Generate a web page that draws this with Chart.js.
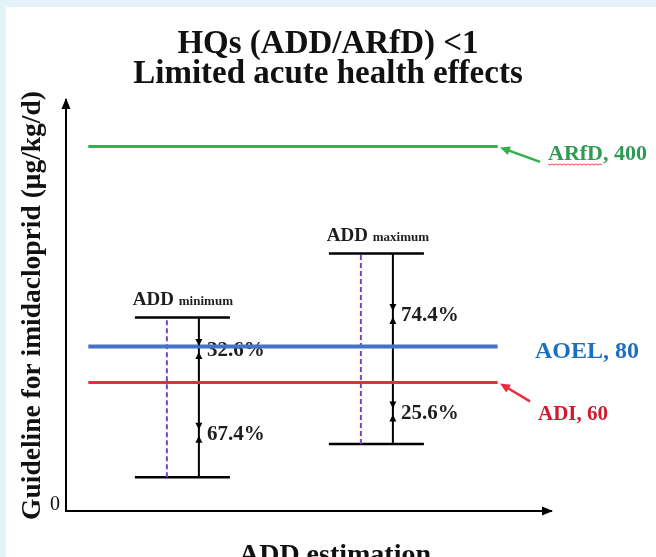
<!DOCTYPE html>
<html>
<head>
<meta charset="utf-8">
<script src="https://cdn.jsdelivr.net/npm/chart.js@4.4.1/dist/chart.umd.min.js"></script>
<style>
  html, body { margin: 0; padding: 0; background: #fff; overflow: hidden; }
  canvas { display: block; }
</style>
</head>
<body>
<canvas id="c" width="656" height="557"></canvas>
<script>
const SERIF = "'Liberation Serif', 'Times New Roman', serif";

// ---- data ----
const categories = ['ADD minimum', 'ADD maximum'];
const categoryX = [1, 2];
const addLow = [28, 36.6];
const addHigh = [101, 169];
// values where the share arrows meet on each ADD range
const splitValues = [[78.5, 40], [104, 47.5]];
const shareLabels = [['32.6%', '67.4%'], ['74.4%', '25.6%']];
const guidelineNames = ['ARfD', 'AOEL', 'ADI'];
const guidelineValues = [400, 80, 60];
const yTickLabels = ['0'];
const titleLines = ['HQs (ADD/ARfD) <1', 'Limited acute health effects'];
const yTitle = 'Guideline for imidacloprid (μg/kg/d)';
const xTitle = 'ADD estimation';

// ---- styling ----
const guideStyles = [
  { line: '#2fb14d', text: '#2f9a55', width: 3, size: 22, tx: 548, ty: 14, base: 'alphabetic',
    arrow: { tail: [540, 15.5], tip: [500, 1] }, squiggle: true },
  { line: '#4472c4', text: '#1f6fc0', width: 4, size: 24, tx: 535, ty: 5.5, base: 'middle' },
  { line: '#ec2b3b', text: '#cf1b30', width: 3, size: 21, tx: 538, ty: 37.5, base: 'alphabetic',
    arrow: { tail: [530, 19], tip: [500, 1] } },
];
const guideSpan = [0.43, 2.54];
const capLeft = -0.33, capRight = 0.16, dashOffset = -0.165;

const datasets = [];
guidelineValues.forEach((v, i) => {
  datasets.push({
    data: [{ x: guideSpan[0], y: v }, { x: guideSpan[1], y: v }],
    borderColor: guideStyles[i].line, borderWidth: guideStyles[i].width
  });
});
categories.forEach((c, i) => {
  const cx = categoryX[i];
  datasets.push({
    data: [{ x: cx + dashOffset, y: addLow[i] }, { x: cx + dashOffset, y: addHigh[i] }],
    borderColor: '#7b45c9', borderWidth: 2, borderDash: [5, 3]
  });
  datasets.push({
    data: [{ x: cx, y: addLow[i] }, { x: cx, y: addHigh[i] }],
    borderColor: '#000', borderWidth: 2
  });
  [addLow[i], addHigh[i]].forEach(v => datasets.push({
    data: [{ x: cx + capLeft, y: v }, { x: cx + capRight, y: v }],
    borderColor: '#000', borderWidth: 2.5
  }));
});

function head(ctx, x, y, ang, len, half, color) {
  ctx.save();
  ctx.translate(x, y);
  ctx.rotate(ang);
  ctx.beginPath();
  ctx.moveTo(0, 0);
  ctx.lineTo(-len, -half);
  ctx.lineTo(-len, half);
  ctx.closePath();
  ctx.fillStyle = color;
  ctx.fill();
  ctx.restore();
}

const decorations = {
  id: 'decorations',
  beforeDraw(chart) {
    const { ctx, width, height } = chart;
    ctx.save();
    ctx.fillStyle = '#e4f2f9';
    ctx.fillRect(0, 0, width, height);
    ctx.fillStyle = '#ffffff';
    ctx.fillRect(6, 7, width - 6, height - 7);
    ctx.restore();
  },
  beforeDatasetsDraw(chart) {
    const { ctx, scales: { x, y } } = chart;
    ctx.save();
    ctx.fillStyle = '#1e1e1e';
    categories.forEach((name, i) => {
      const px = x.getPixelForValue(categoryX[i]);
      const left = x.getPixelForValue(categoryX[i] + capLeft);
      const top = y.getPixelForValue(addHigh[i]);
      // range caption: "ADD" + smaller qualifier
      const parts = name.split(' ');
      ctx.textBaseline = 'alphabetic';
      ctx.textAlign = 'left';
      ctx.font = `bold 19px ${SERIF}`;
      ctx.fillText(parts[0], left - 2, top - 13);
      const w = ctx.measureText(parts[0] + ' ').width;
      ctx.font = `bold 13px ${SERIF}`;
      ctx.fillText(parts[1], left - 2 + w, top - 13);
      // share labels
      ctx.font = `bold 21px ${SERIF}`;
      ctx.textBaseline = 'middle';
      splitValues[i].forEach((sv, j) => {
        const py = y.getPixelForValue(sv);
        ctx.fillText(shareLabels[i][j], px + 8, py + 2);
      });
    });
    ctx.restore();
  },
  afterDatasetsDraw(chart) {
    const { ctx, scales: { x, y } } = chart;
    ctx.save();
    // share arrows meeting on the ranges
    categories.forEach((name, i) => {
      const px = x.getPixelForValue(categoryX[i]);
      splitValues[i].forEach(sv => {
        const py = y.getPixelForValue(sv);
        head(ctx, px, py - 3, Math.PI / 2, 7, 3.5, '#000');
        head(ctx, px, py + 3, -Math.PI / 2, 7, 3.5, '#000');
      });
    });
    // guideline captions
    guidelineValues.forEach((v, i) => {
      const s = guideStyles[i];
      const py = y.getPixelForValue(v);
      ctx.font = `bold ${s.size}px ${SERIF}`;
      ctx.textAlign = 'left';
      ctx.textBaseline = s.base;
      ctx.fillStyle = s.text;
      ctx.fillText(`${guidelineNames[i]}, ${v}`, s.tx, py + s.ty);
      if (s.squiggle) {
        const w = ctx.measureText(guidelineNames[i]).width;
        const by = py + s.ty + 3.5;
        ctx.beginPath();
        ctx.strokeStyle = '#e8474a';
        ctx.lineWidth = 1;
        for (let k = 0; k <= w; k += 2) {
          const yy = by + ((k / 2) % 2 === 0 ? 0 : 1.2);
          if (k === 0) ctx.moveTo(s.tx + k, yy); else ctx.lineTo(s.tx + k, yy);
        }
        ctx.stroke();
      }
      if (s.arrow) {
        const tx0 = s.arrow.tail[0], ty0 = py + s.arrow.tail[1];
        const tx1 = s.arrow.tip[0], ty1 = py + s.arrow.tip[1];
        const ang = Math.atan2(ty1 - ty0, tx1 - tx0);
        ctx.beginPath();
        ctx.strokeStyle = s.line;
        ctx.lineWidth = 2.5;
        ctx.moveTo(tx0, ty0);
        ctx.lineTo(tx1 - Math.cos(ang) * 6, ty1 - Math.sin(ang) * 6);
        ctx.stroke();
        head(ctx, tx1, ty1, ang, 10, 4.5, s.line);
      }
    });
    ctx.restore();
  },
  afterDraw(chart) {
    const { ctx, chartArea } = chart;
    ctx.save();
    head(ctx, chartArea.left, chartArea.top - 2, -Math.PI / 2, 11, 4.5, '#000');
    head(ctx, chartArea.right + 2, chartArea.bottom, 0, 11, 4.5, '#000');
    ctx.font = `bold 28px ${SERIF}`;
    ctx.fillStyle = '#111';
    ctx.textAlign = 'center';
    ctx.textBaseline = 'alphabetic';
    ctx.fillText(xTitle, 335, 563);
    ctx.restore();
  }
};

new Chart(document.getElementById('c'), {
  type: 'line',
  data: { datasets },
  plugins: [decorations],
  options: {
    responsive: false,
    animation: false,
    layout: { padding: 0 },
    elements: { point: { radius: 0 }, line: { tension: 0 } },
    plugins: {
      legend: { display: false },
      tooltip: { enabled: false },
      title: {
        display: true, text: titleLines, color: '#111',
        font: { family: SERIF, size: 33, weight: 'bold', lineHeight: 30 / 33 },
        padding: { top: 29, bottom: 11 }
      }
    },
    scales: {
      x: {
        type: 'linear', min: 0.315, max: 2.815,
        grid: { display: false, drawTicks: false },
        ticks: { display: false },
        border: { display: true, color: '#000', width: 2 },
        afterFit: s => { s.height = 46; }
      },
      y: {
        type: 'logarithmic', min: 21.34, max: 580.8,
        grid: { display: false, drawTicks: false },
        border: { display: true, color: '#000', width: 2 },
        afterBuildTicks: a => { a.ticks = [{ value: a.min }]; },
        ticks: {
          padding: 6, labelOffset: -6, color: '#111',
          font: { family: SERIF, size: 20 },
          callback: (v, i) => yTickLabels[i] ?? ''
        },
        title: {
          display: true, text: yTitle, color: '#111',
          font: { family: SERIF, size: 27.5, weight: 'bold', lineHeight: 1.2 },
          padding: { top: 16, bottom: 0 }
        },
        afterFit: s => { s.width = 66; }
      },
      // empty right-hand strip that holds the guideline captions
      side: {
        type: 'linear', position: 'right', display: true,
        grid: { display: false, drawTicks: false },
        ticks: { display: false },
        border: { display: false },
        afterFit: s => { s.width = 105; }
      }
    }
  }
});
</script>
</body>
</html>
